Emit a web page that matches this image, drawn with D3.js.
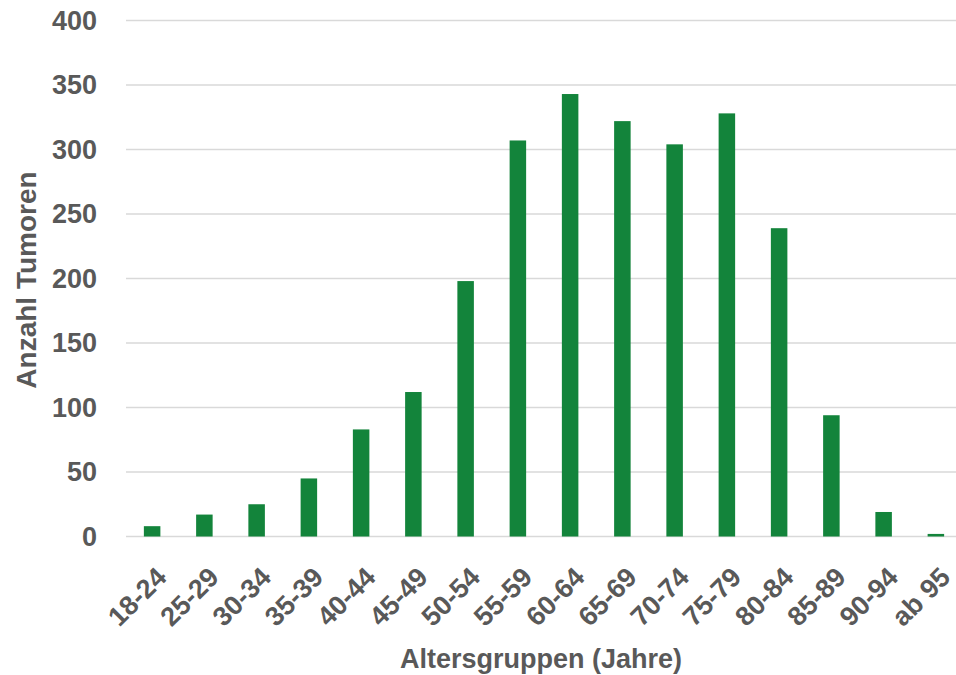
<!DOCTYPE html>
<html><head><meta charset="utf-8">
<script src="https://cdn.jsdelivr.net/npm/d3@7"></script>
<style>body{margin:0;background:#fff}svg{display:block}</style>
</head><body>
<script>
const categories = ["18-24","25-29","30-34","35-39","40-44","45-49","50-54","55-59","60-64","65-69","70-74","75-79","80-84","85-89","90-94","ab 95"];
const values = [8,17,25,45,83,112,198,307,343,322,304,328,239,94,19,2];
const yTicks = [0,50,100,150,200,250,300,350,400];
const xTitle = "Altersgruppen (Jahre)";
const yTitle = "Anzahl Tumoren";

const W = 956, H = 675;
const font = "'Liberation Sans', Arial, sans-serif";
const textColor = "#595959";
const svg = d3.select("body").append("svg").attr("width", W).attr("height", H);

const x = d3.scaleBand().domain(categories).range([126, 962]).paddingInner(0.684).paddingOuter(0.342);
const y = d3.scaleLinear().domain([0, 400]).range([536.5, 20.5]);

svg.append("g").selectAll("line").data(yTicks).join("line")
  .attr("x1", 126).attr("x2", W).attr("y1", d => y(d)).attr("y2", d => y(d))
  .attr("stroke", "#d9d9d9").attr("stroke-width", 1.5);

svg.append("g").selectAll("text").data(yTicks).join("text")
  .attr("x", 97).attr("y", d => y(d)).attr("dy", "0.35em")
  .attr("text-anchor", "end").attr("font-family", font).attr("font-weight", "bold")
  .attr("font-size", 27).attr("fill", textColor).text(d => d);

svg.append("g").selectAll("rect").data(values).join("rect")
  .attr("x", (d, i) => x(categories[i])).attr("width", x.bandwidth())
  .attr("y", d => y(d)).attr("height", d => y(0) - y(d))
  .attr("fill", "#13843b");

svg.append("g").selectAll("text").data(categories).join("text")
  .attr("transform", d => `translate(${x(d) + x.bandwidth() / 2 + 16},579) rotate(-45)`)
  .attr("text-anchor", "end").attr("font-family", font).attr("font-weight", "bold")
  .attr("font-size", 27).attr("fill", textColor).text(d => d);

svg.append("text").attr("x", 541).attr("y", 668).attr("text-anchor", "middle")
  .attr("font-family", font).attr("font-weight", "bold").attr("font-size", 27)
  .attr("fill", textColor).text(xTitle);

svg.append("text").attr("transform", "translate(36,280) rotate(-90)").attr("text-anchor", "middle")
  .attr("font-family", font).attr("font-weight", "bold").attr("font-size", 28)
  .attr("fill", textColor).text(yTitle);
</script>
</body></html>
